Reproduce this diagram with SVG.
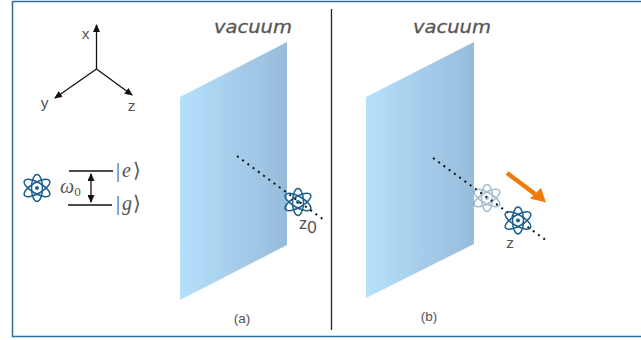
<svg xmlns="http://www.w3.org/2000/svg" width="641" height="340" viewBox="0 0 641 340">
<style>
.lbl{font-family:"Liberation Sans",Arial,sans-serif;fill:#555}
.vac{font-family:"DejaVu Sans",sans-serif;font-style:oblique;font-size:18px;fill:#555;stroke:#555;stroke-width:.3}
.math{font-family:"Liberation Serif","Times New Roman",serif;fill:#555}
.ax{stroke:#111;stroke-width:1.3;fill:none}
.dots{stroke:#111;stroke-width:2;stroke-dasharray:2 4.500;fill:none}
.orb{fill:none;stroke:#1c5f8c;stroke-width:1.500}
.nuc{fill:#1c5f8c}
</style>
<defs>
<linearGradient id="g" x1="0" y1="0" x2="1" y2="0">
<stop offset="0" stop-color="#b5e0fc"/><stop offset="1" stop-color="#97bcdb"/>
</linearGradient>
<marker id="a" markerWidth="8" markerHeight="7" refX="7" refY="3.500" orient="auto-start-reverse" markerUnits="userSpaceOnUse"><path d="M0 0L8 3.500L0 7Z" fill="#111"/></marker>
<g id="atom">
<ellipse class="orb" rx="14.500" ry="5.500" transform="rotate(30)"/>
<ellipse class="orb" rx="14.500" ry="5.500" transform="rotate(-30)"/>
<ellipse class="orb" rx="5.500" ry="13.500"/>
<circle class="nuc" r="2"/>
</g>
</defs>
<rect width="641" height="340" fill="#fff"/>
<path d="M12.500 1.500H641M12.500 1V336.500H641" fill="none" stroke="#2c6e96" stroke-width="1.500"/>
<line x1="331.500" y1="9" x2="331.500" y2="330" stroke="#222" stroke-width="1.300"/>
<g id="axes">
<g class="connectors">
<line class="ax" x1="96.500" y1="69" x2="96.500" y2="25" marker-end="url(#a)"/>
<line class="ax" x1="96.500" y1="69" x2="55" y2="98" marker-end="url(#a)"/>
<line class="ax" x1="96.500" y1="69" x2="132" y2="95" marker-end="url(#a)"/>
</g>
<text class="lbl" x="85.500" y="39" text-anchor="middle" font-size="15.500">x</text>
<text class="lbl" x="44.500" y="108" text-anchor="middle" font-size="15.500">y</text>
<text class="lbl" x="131.500" y="111" text-anchor="middle" font-size="15.500">z</text>
</g>
<g id="levels">
<use href="#atom" x="37" y="188"/>
<line class="ax" x1="69" y1="171" x2="113" y2="171"/>
<line class="ax" x1="68" y1="205" x2="112" y2="205"/>
<line class="ax" x1="91" y1="174" x2="91" y2="202" marker-start="url(#a)" marker-end="url(#a)"/>
<text class="math" x="60" y="193" font-size="20" font-style="italic">ω<tspan font-size="13" font-style="normal" dy="3">0</tspan></text>
<text class="math" x="116" y="177" font-size="20">|</text>
<text class="math" x="122" y="177" font-size="20" font-style="italic">e</text>
<text class="math" x="133" y="177" font-size="20">⟩</text>
<text class="math" x="116" y="210" font-size="20">|</text>
<text class="math" x="122" y="210" font-size="20" font-style="italic">g</text>
<text class="math" x="133" y="210" font-size="20">⟩</text>
</g>
<g id="panel-a">
<path d="M180 97L287 42V245L180 300Z" fill="url(#g)"/>
<text class="vac" x="214" y="33" textLength="78" lengthAdjust="spacingAndGlyphs">vacuum</text>
<line class="dots" x1="237" y1="156" x2="324" y2="220"/>
<use href="#atom" x="298" y="202"/>
<text class="lbl" x="299" y="229" font-size="16.500">z<tspan font-size="17" dy="4">0</tspan></text>
<text class="lbl" x="242" y="323" text-anchor="middle" font-size="13.500">(a)</text>
</g>
<g id="panel-b">
<path d="M366 97L474 42V244L366 298Z" fill="url(#g)"/>
<text class="vac" x="413" y="33" textLength="78" lengthAdjust="spacingAndGlyphs">vacuum</text>
<line class="dots" x1="433" y1="158" x2="547" y2="241"/>
<use href="#atom" x="487" y="198" opacity=".4"/>
<use href="#atom" x="518" y="220.500"/>
<text class="lbl" x="510" y="248" text-anchor="middle" font-size="15.500">z</text>
<text class="lbl" x="429" y="321" text-anchor="middle" font-size="13.500">(b)</text>
<line x1="507" y1="173" x2="535" y2="194" stroke="#f07a0a" stroke-width="4.500"/>
<path d="M546 202.500L530 198.500L541 188Z" fill="#f07a0a"/>
</g>
</svg>
